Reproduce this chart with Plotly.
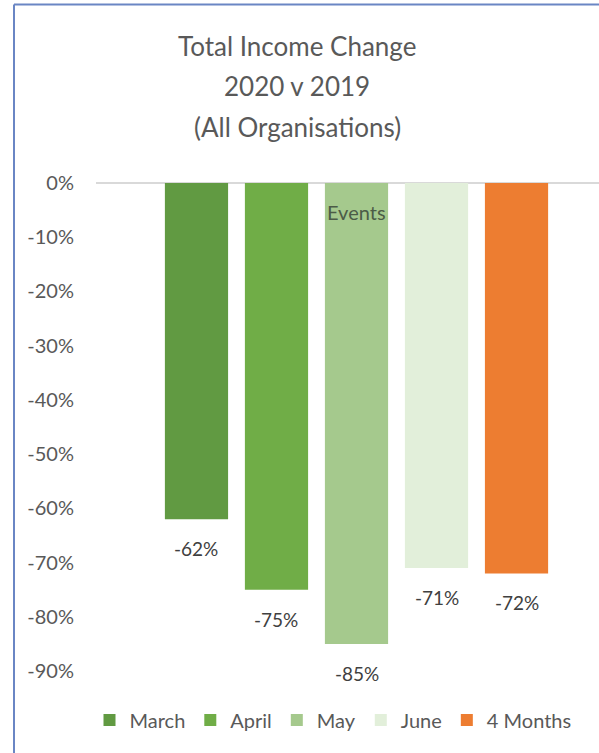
import plotly.graph_objects as go

# --------------------------------------------------
# Data
# --------------------------------------------------

periods = ["March", "April", "May", "June", "4 Months"]
income_change = [-0.62, -0.75, -0.85, -0.71, -0.72]
bar_colors = ["#619a42", "#70ad47", "#a5c98d", "#e2efda", "#ed7d31"]
y_ticks = [0, -0.1, -0.2, -0.3, -0.4, -0.5, -0.6, -0.7, -0.8, -0.9]
title_lines = ["Total Income Change", "2020 v 2019", "(All Organisations)"]

W, H = 599, 753
L, R, T, B = 96, 0, 183, 82
FONT = "Lato, Carlito, Calibri, sans-serif"
GREY = "#595959"


def pct(v):
    # plain hyphen like the original, not the unicode minus
    return f"{v * 100:.0f}%"


fig = go.Figure()

# --------------------------------------------------
# Bars + value labels (set a bit further below the bar end)
# --------------------------------------------------

for name, val, col in zip(periods, income_change, bar_colors):
    fig.add_trace(
        go.Bar(
            x=[name],
            y=[val],
            name=name,
            marker=dict(color=col, line=dict(width=0)),
        )
    )
    fig.add_annotation(
        x=name,
        y=val,
        text=pct(val),
        showarrow=False,
        yanchor="top",
        yshift=-16,
        font=dict(size=19, color="#404040", family=FONT),
    )

# "Events" note on the May bar
fig.add_annotation(
    x="May",
    y=-0.054,
    text="Events",
    showarrow=False,
    font=dict(size=20, color="#4c5c47", family=FONT),
)

# --------------------------------------------------
# Title (three lines, wider spacing than a <br> title)
# --------------------------------------------------

pw = W - L - R
ph = H - T - B

for i, line in enumerate(title_lines):
    cy = 46 + i * 40.5
    fig.add_annotation(
        xref="paper",
        yref="paper",
        x=(297 - L) / pw,
        y=1 + (T - cy) / ph,
        xanchor="center",
        yanchor="middle",
        text=line,
        showarrow=False,
        font=dict(size=26, color=GREY, family=FONT),
    )

# --------------------------------------------------
# Frame lines (left and top)
# --------------------------------------------------

x_left = (14 - L) / pw
y_top = 1 + (T - 4.5) / ph
y_bot = -(B + 5) / ph
x_right = 1 + (R + 5) / pw

fig.add_shape(type="line", xref="paper", yref="paper",
              x0=x_left, x1=x_left, y0=y_bot, y1=y_top,
              line=dict(color="#6a86c4", width=2))
fig.add_shape(type="line", xref="paper", yref="paper",
              x0=x_left, x1=x_right, y0=y_top, y1=y_top,
              line=dict(color="#6a86c4", width=2))

# --------------------------------------------------
# Axes
# --------------------------------------------------

fig.update_xaxes(
    categoryorder="array",
    categoryarray=periods,
    range=[-1.256, 5.031],
    showticklabels=False,
    showgrid=False,
    showline=False,
    zeroline=False,
)

fig.update_yaxes(
    range=[-0.9, 0],
    tickvals=y_ticks,
    ticktext=[pct(v) for v in y_ticks],
    showgrid=False,
    zeroline=True,
    zerolinecolor="#d9d9d9",
    zerolinewidth=1.5,
    showline=False,
    ticks="",
    ticklabelstandoff=21,
    tickfont=dict(size=20, color=GREY, family=FONT),
)

# --------------------------------------------------
# Layout
# --------------------------------------------------

fig.update_layout(
    width=W,
    height=H,
    barmode="relative",
    bargap=0.21,
    plot_bgcolor="white",
    paper_bgcolor="white",
    legend=dict(
        orientation="h",
        xref="container",
        yref="container",
        x=333 / W,
        xanchor="center",
        y=1 - 720 / H,
        yanchor="middle",
        font=dict(size=20, color=GREY, family=FONT),
        itemwidth=30,
        traceorder="normal",
    ),
    margin=dict(l=L, r=R, t=T, b=B),
    showlegend=True,
)

fig.write_html(
    "out.html",
    config=dict(displayModeBar=False),
    post_script="document.body.style.margin='0';document.body.style.overflow='hidden';",
)
